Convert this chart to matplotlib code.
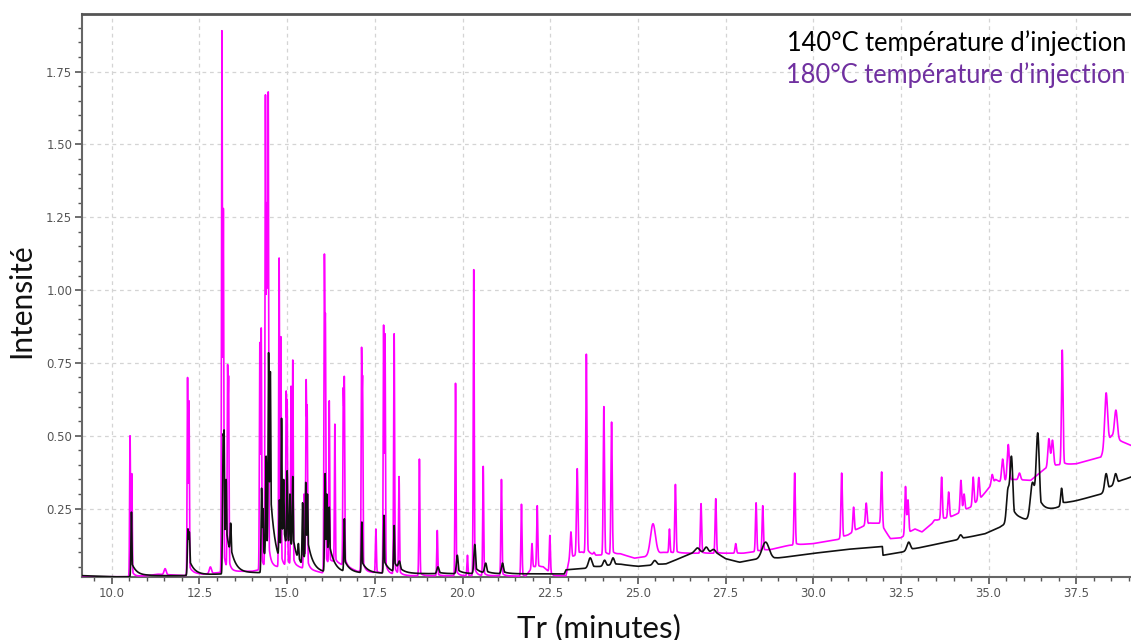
import numpy as np
import matplotlib
matplotlib.use("Agg")
import matplotlib.pyplot as plt
from matplotlib.ticker import MultipleLocator, FormatStrFormatter, FixedLocator

# ---------------- data ----------------
# 180 °C trace (magenta): peak retention times (min), apex intensities, peak widths (sigma, min)
m_rt = [10.52, 10.57, 11.52, 12.16, 12.20, 12.81, 13.14, 13.18, 13.30, 13.33,
        14.22, 14.26, 14.38, 14.42, 14.46, 14.77, 14.82, 14.97, 15.00, 15.11,
        15.16, 15.48, 15.54, 15.57, 16.06, 16.09, 16.20, 16.36, 16.60, 16.63,
        17.12, 17.15, 17.53, 17.75, 17.79, 18.05, 18.19, 18.77, 19.28, 19.80,
        20.14, 20.32, 20.59, 21.11, 21.68, 21.98, 22.13, 22.49, 23.09, 23.27,
        23.53, 23.75, 24.03, 24.25, 25.43, 25.90, 26.07, 26.80, 27.22, 27.79,
        28.37, 28.56, 29.47, 30.81, 31.15, 31.51, 31.95, 32.63, 32.70, 33.45,
        33.66, 33.86, 34.21, 34.30, 34.56, 34.72, 35.10, 35.40, 35.56, 35.88,
        36.72, 36.82, 37.10, 38.35, 38.63]
m_apex = [0.50, 0.37, 0.044, 0.70, 0.62, 0.05, 1.89, 1.28, 0.74, 0.70,
          0.82, 0.87, 1.67, 1.30, 1.68, 1.11, 0.84, 0.65, 0.62, 0.67,
          0.76, 0.30, 0.69, 0.60, 1.12, 0.91, 0.62, 0.54, 0.66, 0.70,
          0.80, 0.70, 0.18, 0.88, 0.85, 0.85, 0.36, 0.42, 0.175, 0.68,
          0.09, 1.07, 0.395, 0.35, 0.265, 0.13, 0.26, 0.158, 0.17, 0.387,
          0.78, 0.10, 0.60, 0.547, 0.198, 0.18, 0.333, 0.267, 0.284, 0.13,
          0.27, 0.26, 0.372, 0.372, 0.255, 0.269, 0.376, 0.326, 0.28, 0.21,
          0.358, 0.307, 0.347, 0.30, 0.358, 0.357, 0.367, 0.42, 0.47, 0.372,
          0.49, 0.485, 0.794, 0.647, 0.588]
m_width = [0.012, 0.012, 0.03, 0.012, 0.012, 0.03, 0.012, 0.012, 0.012, 0.012,
           0.012, 0.012, 0.012, 0.016, 0.012, 0.012, 0.012, 0.012, 0.012, 0.012,
           0.012, 0.014, 0.012, 0.012, 0.012, 0.012, 0.012, 0.012, 0.012, 0.012,
           0.012, 0.012, 0.014, 0.012, 0.012, 0.014, 0.014, 0.014, 0.014, 0.014,
           0.014, 0.014, 0.014, 0.016, 0.016, 0.016, 0.016, 0.016, 0.02, 0.02,
           0.018, 0.02, 0.018, 0.018, 0.07, 0.016, 0.018, 0.018, 0.018, 0.02,
           0.018, 0.018, 0.018, 0.02, 0.02, 0.022, 0.02, 0.02, 0.022, 0.03,
           0.02, 0.022, 0.022, 0.022, 0.022, 0.022, 0.025, 0.03, 0.03, 0.03,
           0.03, 0.03, 0.022, 0.04, 0.04]
m_base_t = [9.15, 10.45, 10.7, 11.0, 11.3, 11.8, 12.1, 12.3, 12.6, 13.0, 13.5, 14.0,
            14.6, 15.3, 16.0, 16.3, 16.5, 17.0, 17.6, 18.5, 19.5, 21.0, 21.8, 22.0,
            22.3, 22.6, 22.95, 23.05, 23.4, 23.8, 24.5, 24.9, 25.2, 25.7, 26.5, 27.5,
            28.0, 28.8, 29.3, 30.0, 30.7, 31.0, 31.2, 31.6, 31.9, 32.2, 32.5, 32.9,
            33.1, 33.5, 33.9, 34.5, 34.8, 35.2, 35.35, 35.7, 36.2, 36.6, 36.95, 37.5,
            38.2, 38.5, 38.8, 39.1]
m_base_y = [0.016, 0.016, 0.018, 0.02, 0.025, 0.022, 0.02, 0.03, 0.025, 0.03, 0.035, 0.035,
            0.05, 0.05, 0.03, 0.065, 0.06, 0.035, 0.03, 0.02, 0.02, 0.02, 0.018, 0.05,
            0.05, 0.02, 0.02, 0.08, 0.10, 0.09, 0.095, 0.08, 0.085, 0.10, 0.097, 0.097,
            0.097, 0.11, 0.124, 0.13, 0.144, 0.16, 0.176, 0.20, 0.20, 0.147, 0.15, 0.18,
            0.17, 0.21, 0.22, 0.256, 0.29, 0.35, 0.34, 0.35, 0.347, 0.387, 0.40, 0.404,
            0.427, 0.50, 0.48, 0.465]

# 140 °C trace (black)
k_rt = [10.56, 12.17, 12.21, 13.17, 13.20, 13.26, 13.39, 14.27, 14.31, 14.40,
        14.47, 14.52, 14.78, 14.84, 14.90, 15.00, 15.08, 15.16, 15.32, 15.44,
        15.53, 15.58, 16.08, 16.13, 16.20, 16.63, 17.13, 17.76, 18.05, 18.20,
        19.30, 19.85, 20.35, 20.66, 21.14, 23.64, 24.05, 24.29, 25.48, 26.70,
        26.95, 27.15, 28.64, 32.72, 34.20, 35.55, 35.65, 36.25, 36.40, 37.08,
        38.35, 38.62]
k_apex = [0.238, 0.18, 0.17, 0.49, 0.52, 0.35, 0.20, 0.32, 0.25, 0.43,
          0.785, 0.72, 0.28, 0.56, 0.35, 0.38, 0.30, 0.36, 0.13, 0.27,
          0.34, 0.30, 0.37, 0.30, 0.255, 0.215, 0.204, 0.227, 0.192, 0.07,
          0.05, 0.09, 0.127, 0.063, 0.063, 0.081, 0.073, 0.081, 0.072, 0.115,
          0.118, 0.11, 0.135, 0.135, 0.16, 0.32, 0.43, 0.34, 0.51, 0.32,
          0.37, 0.37]
k_width = [0.014, 0.016, 0.016, 0.014, 0.014, 0.014, 0.016, 0.014, 0.014, 0.014,
           0.014, 0.014, 0.014, 0.014, 0.014, 0.014, 0.014, 0.014, 0.016, 0.014,
           0.014, 0.014, 0.014, 0.014, 0.014, 0.014, 0.014, 0.014, 0.014, 0.03,
           0.03, 0.025, 0.025, 0.03, 0.03, 0.05, 0.04, 0.04, 0.05, 0.06,
           0.05, 0.05, 0.10, 0.05, 0.04, 0.04, 0.04, 0.06, 0.045, 0.025,
           0.04, 0.04]
k_base_t = [9.15, 9.6, 10.0, 10.5, 11.0, 12.0, 13.0, 14.0, 16.0, 19.0, 22.9, 22.95,
            23.5, 24.5, 25.0, 25.8, 26.3, 26.6, 27.2, 27.5, 27.9, 28.3, 29.0, 29.9,
            30.95, 31.97, 31.99, 32.5, 33.2, 33.9, 34.9, 35.3, 35.5, 35.9, 36.15,
            36.5, 36.9, 37.3, 38.2, 38.8, 39.1]
k_base_y = [0.02, 0.018, 0.016, 0.016, 0.02, 0.02, 0.025, 0.03, 0.03, 0.027, 0.026, 0.04,
            0.045, 0.058, 0.052, 0.06, 0.085, 0.10, 0.10, 0.078, 0.066, 0.075, 0.08, 0.095,
            0.11, 0.12, 0.09, 0.10, 0.12, 0.138, 0.164, 0.185, 0.20, 0.21, 0.21,
            0.235, 0.25, 0.27, 0.30, 0.345, 0.36]

x_ticks = [10.0, 12.5, 15.0, 17.5, 20.0, 22.5, 25.0, 27.5, 30.0, 32.5, 35.0, 37.5]
y_ticks = [0.25, 0.50, 0.75, 1.00, 1.25, 1.50, 1.75]
label_140 = "140°C température d\u2019injection"
label_180 = "180°C température d\u2019injection"
x_label = "Tr (minutes)"
y_label = "Intensité"

# ---------------- build traces ----------------
t = np.arange(9.15, 39.12, 0.002)


def shape(d, s, tail_frac, tail_tau):
    g = np.exp(-0.5 * (d / s) ** 2)
    tail = np.where(d > 0, tail_frac * np.exp(-np.clip(d, 0, None) / tail_tau), 0.0)
    return np.maximum(g, tail)


def build(base_t, base_y, rts, apexes, widths, tail_frac, tail_tau):
    rts = np.asarray(rts)
    widths = np.asarray(widths)
    target = np.asarray(apexes) - np.interp(rts, base_t, base_y)
    # amplitudes such that the summed signal passes through each read apex
    A = shape(rts[:, None] - rts[None, :], widths[None, :], tail_frac, tail_tau)
    amps = np.linalg.solve(A, target)
    for _ in range(3):
        amps = np.clip(amps, 0, None)
        resid = target - A @ amps
        amps = amps + resid / np.diag(A)
    amps = np.clip(amps, 0, None)
    y = np.interp(t, base_t, base_y)
    for rt, a, s in zip(rts, amps, widths):
        y = y + a * shape(t - rt, s, tail_frac, tail_tau)
    return y


y180 = build(m_base_t, m_base_y, m_rt, m_apex, m_width, 0.04, 0.06)
y140 = build(k_base_t, k_base_y, k_rt, k_apex, k_width, 0.22, 0.15)

# ---------------- figure ----------------
fig = plt.figure(figsize=(11.31, 6.40), dpi=100)
ax = fig.add_axes([0.0725, 0.0985, 0.9275, 0.879])

ax.plot(t, y180, color="#ff00ff", lw=1.2, zorder=3)
ax.plot(t, y140, color="#111111", lw=1.2, zorder=4)

ax.set_xlim(9.15, 39.06)
ax.set_ylim(0.0155, 1.946)

ax.xaxis.set_major_locator(FixedLocator(x_ticks))
ax.yaxis.set_major_locator(FixedLocator(y_ticks))
ax.xaxis.set_minor_locator(MultipleLocator(0.5))
ax.yaxis.set_minor_locator(MultipleLocator(0.05))
ax.xaxis.set_major_formatter(FormatStrFormatter("%.1f"))
ax.yaxis.set_major_formatter(FormatStrFormatter("%.2f"))

ax.tick_params(axis="both", which="major", direction="out", length=5, width=1.2,
               color="#555555", labelsize=8.5, labelcolor="#555555", pad=2)
ax.tick_params(axis="both", which="minor", direction="out", length=3, width=1.0,
               color="#555555")

ax.grid(True, which="major", color="#d4d4d4", linestyle=(0, (3, 3)), lw=0.9)
ax.set_axisbelow(True)

for side in ["left", "bottom"]:
    ax.spines[side].set_color("#666666")
    ax.spines[side].set_linewidth(1.5)
ax.spines["top"].set_color("#555555")
ax.spines["top"].set_linewidth(2.0)
ax.spines["right"].set_visible(False)

font = ["Lato", "DejaVu Sans"]
fig.text(0.019, 0.53, y_label, rotation=90, ha="center", va="center",
         fontsize=21.5, family=font, color="#111111")
fig.text(0.53, 0.019, x_label, ha="center", va="center",
         fontsize=22.5, family=font, color="#111111")
fig.text(0.9955, 0.933, label_140, ha="right", va="center",
         fontsize=18.4, family=font, color="#000000")
fig.text(0.9955, 0.883, label_180, ha="right", va="center",
         fontsize=18.4, family=font, color="#7030a0")

fig.savefig("out.png", dpi=100)
